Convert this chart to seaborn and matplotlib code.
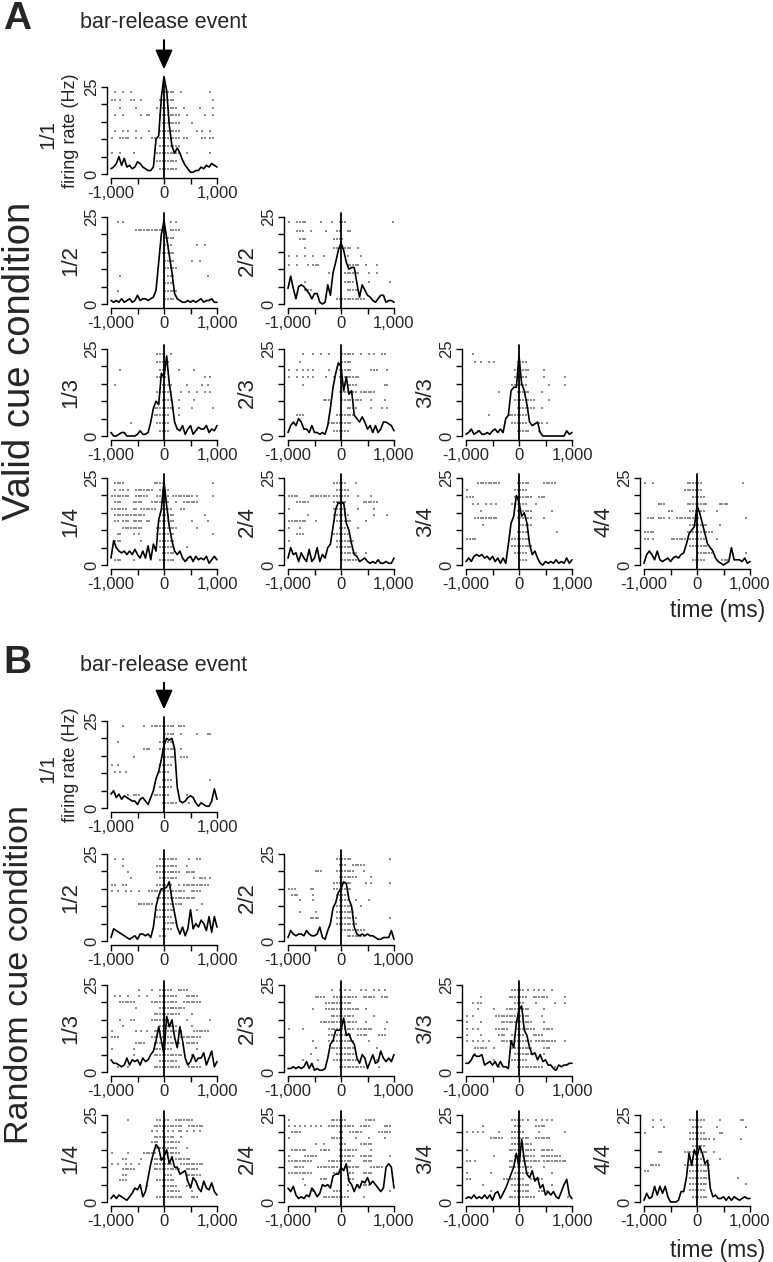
import numpy as np
import pandas as pd
import matplotlib
matplotlib.use("Agg")
import matplotlib.pyplot as plt
import seaborn as sns

# ---------------- DATA ----------------
# time axis of the PSTH curves (ms, 50 ms steps)
TIME = list(range(-1000, 1001, 50))
XTICKS = [-1000, -500, 0, 500, 1000]
XTICKLABELS = ['-1,000', '', '0', '', '1,000']
YTICKS = [0, 5, 10, 15, 20, 25]
YTICKLABELS = ['0', '', '', '', '', '25']

# firing rate (Hz) -- valid cue condition, name A_<k>_<n> = "k/n"
A_1_1 = [1.5, 2, 3, 5, 2.5, 4.5, 2, 2.5, 1.5, 2, 3.5, 3, 2, 1.5, 1, 1, 2, 10, 11, 22, 28,
         24, 14, 8, 6, 7.5, 6, 4, 2.5, 1.5, 0.5, 0.5, 1, 1, 2, 1.5, 2.5, 2, 3, 2.5, 2]
A_1_2 = [1, 0.5, 1, 0.5, 1.5, 0.5, 1, 1.5, 0.5, 1, 2.5, 1, 1.5, 1.5, 1, 1.5, 2, 4, 12, 20, 24,
         19, 14, 9, 3, 1.5, 1, 0.5, 0.5, 1, 0.5, 1, 0.5, 1, 1.5, 0.5, 1, 1, 1.5, 0.5, 0.5]
A_2_2 = [4.5, 8, 4.5, 1.5, 5, 5.5, 5, 4, 3, 1.5, 3, 3, 0.5, 0, 0.5, 5.5, 2.5, 9, 12, 15.5, 17.5,
         15.5, 12, 10, 10.5, 10.5, 6, 2, 5.5, 4, 2.5, 2, 1, 0.5, 1.5, 2.5, 2.5, 0.5, 1, 1, 0.5]
A_1_3 = [1, 0, 0, 0.5, 1, 1, 0, 0, 0, 0, 0.5, 1.5, 0.5, 0.5, 1, 4, 8, 10, 9, 18, 17,
         23, 15, 10, 4, 2, 1.5, 3, 0.5, 2, 3, 0.5, 1.5, 2.5, 2, 2, 3, 1, 2, 1.5, 3]
A_2_3 = [1, 3, 4, 3, 5, 4, 2, 2, 1, 3, 1, 1, 0.5, 1, 0.5, 3, 8, 14, 18, 21, 20,
         13, 17, 12, 13, 6, 5, 4, 5.5, 4, 2, 3, 1, 3, 1, 2, 4, 4, 3.5, 3, 1.5]
A_3_3 = [0.5, 1, 2, 0.5, 1, 1.5, 0.5, 0.5, 1, 0.5, 1.5, 2, 1, 2, 1, 5, 6, 13, 14, 14, 23,
         15, 13, 9, 4, 3, 3.5, 4, 1, 0, 0, 0, 0, 0, 0, 0, 0, 0, 1.5, 0.5, 1]
A_1_4 = [2, 7, 5, 4, 3.5, 4, 3, 4, 3, 4.5, 3, 2, 4, 2, 5.5, 1.5, 6, 4, 13, 16, 24,
         17, 11, 7, 4, 3, 4, 2, 1, 2, 2.5, 1, 2.5, 1.5, 2, 1.5, 2.5, 0.5, 1.5, 2.5, 1.5]
A_2_4 = [2, 5, 3, 3.5, 1, 3.5, 2, 1, 4.5, 1, 2, 5, 1, 3, 2, 5, 6, 11, 16, 18, 17.5,
         18, 12, 10, 6, 3, 2.5, 1, 1.5, 2, 1, 0.5, 1, 0.5, 1.5, 0.5, 0.5, 1, 0.5, 0.5, 2]
A_3_4 = [1, 2, 1, 2.5, 3, 2.5, 3, 2, 2.5, 1.5, 2.5, 1, 2, 0.5, 2, 0.5, 6, 12, 14, 20, 18,
         14, 15, 12, 6, 3, 4, 2, 0.5, 0, 1, 0.5, 1, 0.5, 1.5, 0.5, 1, 0.5, 2, 0.5, 1.5]
A_4_4 = [0.5, 3, 4, 3, 1.5, 4, 1.5, 1, 1.5, 2, 1, 2, 2.5, 2, 3, 3.5, 6, 9, 10, 11, 17,
         15, 12, 9, 6, 5, 4, 2, 1, 0.5, 0, 0.5, 1, 5, 1.5, 1.5, 1.5, 1, 2, 0.5, 1]

# firing rate (Hz) -- random cue condition
B_1_1 = [4, 5, 3, 4, 2.5, 3.5, 3, 2.5, 2, 2, 1, 2.5, 3, 2, 1, 3, 5, 8.5, 10.5, 14, 18,
         20, 19.5, 20, 17, 6, 2, 1.5, 2, 3, 3.5, 3, 1.5, 0.5, 1.5, 1, 0.5, 0.5, 2, 5.5, 2.5]
B_1_2 = [1, 3.5, 3, 2.5, 2, 1.5, 1, 0.5, 1, 1.5, 0.5, 2, 2, 1.5, 2, 1, 4, 10, 13, 15, 15,
         15.5, 17, 12, 8, 4, 2, 4, 1.5, 3.5, 9, 3.5, 5, 4, 6, 5, 3, 7, 2.5, 7, 4]
B_2_2 = [1, 3, 2, 1.5, 2, 2, 1.5, 3, 2, 1.5, 1.5, 2, 4, 1, 0.5, 3, 5, 9.5, 11, 14, 15,
         17, 16.5, 12, 10, 4, 2, 1.5, 2, 1.5, 2, 1.5, 1.5, 1, 0.5, 0.5, 1, 1, 1, 3, 0.5]
B_1_3 = [3.5, 2.5, 2.5, 2, 1.5, 2, 4, 2, 3.5, 3, 3.5, 2, 4, 3, 3.5, 5, 6, 9, 13, 9, 5,
         16, 13, 15, 10, 7, 13, 9, 4, 2, 3, 5, 3, 4, 4, 5.5, 2, 4, 6, 1.5, 3]
B_2_3 = [1, 1, 1.5, 1, 1.5, 1, 1.5, 3, 1, 2.5, 0.5, 1, 0.5, 0.5, 1, 4, 8, 9, 12, 12, 12,
         15.5, 10.5, 11, 9, 8, 4, 2.5, 5, 4, 1, 3, 5, 2.5, 3, 6, 4, 3, 4, 3, 5]
B_3_3 = [2.5, 2.5, 3.5, 5, 4.5, 4.5, 5, 2, 2.5, 3, 2, 3, 1.5, 3, 1.5, 1.5, 1, 9, 7, 14, 18,
         19, 12, 10.5, 7, 5, 5.5, 3.5, 5, 3, 3.5, 2, 2, 1, 0.5, 2, 1.5, 2, 2, 2.5, 2.5]
B_1_4 = [1, 2, 1, 2, 1.5, 1, 0.5, 1.5, 2.5, 4, 3.5, 5, 1.5, 3, 7, 11, 14, 16.5, 15.5, 12, 13,
         15, 11, 13, 10, 10, 8, 8.5, 9, 6, 4, 7, 6, 4, 3, 6, 4, 3.5, 5.5, 3, 2]
B_2_4 = [4, 3, 4.5, 2, 1, 1.5, 1, 2, 1.5, 4, 3, 1.5, 2.5, 5, 4.5, 5, 4, 7.5, 8, 8, 10,
         9, 11, 6, 5, 3, 5, 4, 6, 5.5, 7, 5, 6, 5, 4, 3, 4, 10, 11, 10, 4]
B_3_4 = [1, 1.5, 1, 2, 1, 1.5, 1, 2, 1, 2, 0.5, 2.5, 3, 1, 2.5, 4, 6, 8, 10, 14, 10,
         18, 12, 8, 7, 9, 6, 7, 4, 5, 2, 3, 2, 3, 1.5, 1, 3, 5, 6.5, 2, 1]
B_4_4 = [0.5, 2.5, 1, 1.5, 4.5, 2, 4.5, 2.5, 4.5, 1.5, 0, 0, 0, 0.5, 3, 3, 7, 14, 10.5, 15, 13,
         16, 14, 11, 12, 4, 1.5, 2, 1, 1, 1.5, 0.5, 1.5, 0.5, 1.5, 1, 0.5, 1, 1.5, 1, 1]

# spike rasters: one string per trial row (top to bottom), one char per 50 ms bin
RA_1_1 = [" .  .  .           .....  .          .  ",
          ".. .   ..  .      ......              . ",
          "   .     .       . ......  .     .    . ",
          " .  .      . ..   ........  .      .  . ",
          "                   .......    .         ",
          " .  . .  .    .   ........      . .  .  ",
          ".  ....  . .   .. ........ ..     .. .. ",
          "                  ........              ",
          ".  .    .        .........  .        .  ",
          "                 ........               ",
          "                  .......               "]
RA_1_2 = ["  . .                 . .              ",
          "         ...........  ....             ",
          "                    ....               ",
          "                    ...         .  .   ",
          "                   .....               ",
          "                    ....      .  .     ",
          "                    .....              ",
          "   .                 ...            .  ",
          "                    ....               ",
          "  .                 .....              ",
          "                    ....               "]
RA_2_2 = [".  ....     .   .  ...                 .",
          "   ...  .     .   ..  ..               ",
          "    ...          ....                  ",
          "      .          .......  .            ",
          ".  .  .  .   .        .    .           ",
          ".  .   . ...          .....  .   .     ",
          "               .     ......   .  .     ",
          "      .              ....     .       .",
          "      ...             .....            ",
          "                  ...........          "]
RA_1_3 = ["                 ...  .                ",
          "                 .....                 ",
          "   .              ....   .     .       ",
          "                 ....              . . ",
          " .                 ....     .     . .  ",
          "                 ......   .  .  .  . . ",
          "                   ....  .     .       ",
          "                ........ .    .       .",
          "                ......   .             ",
          "       .         .....                 ",
          "                  ....                 "]
RA_2_3 = ["     .   .  .  .    .....  .  . .  ..  ",
          "    .               ....               ",
          ".  . . . .     .   .....       ...   . ",
          ".  . . . .    .  . ........            ",
          "     .               .....          .. ",
          "                   ....... ......      ",
          "             ...    ........   .    .  ",
          "                      ....     .   . . ",
          "   ...            .......              ",
          "               .........               ",
          "                 ......                "]
RA_3_3 = ["  .                                    ",
          "   . .  . .        ....                ",
          "                  ......     .         ",
          "                  .....      .       . ",
          "                 ......        .     . ",
          "            .      .....    .          ",
          "                  ........     .       ",
          "                   .......  .          ",
          "        .       .......                ",
          "                 ......    .. .        ",
          " .  .              .....   .           "]
RA_1_4 = [" ....           ....                  .",
          " . .. .  .......  ....                 ",
          ".......  .....   ..... ........ .     .",
          " ...    ....   .......  .  ......      ",
          "......  .. ......  ....   ..           ",
          " ............     ......           .   ",
          " .. ... .... ..   ......      .     .  ",
          "    ........     ........       .      ",
          "  ..    . .      .......              .",
          " ...       .      ......               ",
          "                  ......    .          ",
          "                   .....               ",
          " ...    .         ......    .          "]
RA_2_4 = ["                 .....   .             ",
          "                  .....                ",
          "....    ........ ......   .    .       ",
          "   .....         .....      ......     ",
          ".                .....    .     .      ",
          "       .         ......         .    . ",
          ".......   .      .......     .         ",
          ".   .              ....   .            ",
          "   ...           ......                ",
          ".                 .......              ",
          "                  ......               ",
          "                    ......   .         ",
          "                    ......             "]
RA_3_4 = ["    .........      .....     .....     ",
          ".                 .....                ",
          "...               .......  ...         ",
          "  . .  . . .     ......   .            ",
          "     .             ......       .      ",
          "   .........       ......    .         ",
          "      .             .....              ",
          "                   .....          .    ",
          "....             .......               ",
          "                 ........              ",
          "                  .....                ",
          "                    ...                "]
RA_4_4 = [".  .            ......               . ",
          "               .......                 ",
          "                  .....                ",
          "     ...        ........    ....       ",
          "         ..      ......    .           ",
          " ... ... .  .........                 .",
          "                 .......    .          ",
          "....            ..........             ",
          ".. .      .............    .           ",
          "                 .......               ",
          "                    ......            .",
          "                  .....      ...       "]

RB_1_1 = ["    .       .  ......... ...           ",
          "                    ....  .     .   .. ",
          "  .               ......               ",
          "            ...   ......  .            ",
          "        .          .....  ...          ",
          ". .               .....                ",
          " . . .            ....                 ",
          "                   ....              . ",
          "                  .....                ",
          "      . ...     ......      .          ",
          "                   ......    .         "]
RB_1_2 = [" .  .             .......    .  ..     ",
          "    .            ........   .          ",
          "      .          .........  ....       ",
          "       .          .......      . ... . ",
          "..  ..           ......  . ..........  ",
          ". .  . .  .   ..............  ....     ",
          "                 ...............       ",
          "          ......   ........       .    ",
          "                 .......        .      ",
          "                 ......                ",
          "                    .....              ",
          "                   ....                ",
          "                  ...                  "]
RB_2_2 = ["                  ......              .",
          "                   ...  .....          ",
          "          ...     .......   .          ",
          "                   .......     .       ",
          "                 .......     . .      .",
          "...     ..       .......               ",
          " ...     .        .....                ",
          "    .    .         ....  .    .        ",
          "                 .......   .           ",
          "    .     .       .......              ",
          "        ....      ........            .",
          "                  ........             ",
          "                    .........          ",
          "                      .......          "]
RB_1_3 = ["          .    .  .....  ....          ",
          " . .  .   .  .    .......   .....      ",
          "   ......      ..........  .......     ",
          "         .        ..........           ",
          "                ..........    .        ",
          "   .   ..      .......      .        . ",
          "    .             .......     .        ",
          ".        . . .  ...........    ......  ",
          "...            ........   ........     ",
          "         ....   ..........  .....      ",
          ".       .       .......         .      ",
          "        .       ...........   .        ",
          "                  .......              ",
          "  .   .         ..........   .....     "]
RB_2_3 = ["                .  . . .   . .  . . .  ",
          "          ....   .........  .....  ... ",
          "              ..........               ",
          "         .    .............  .         ",
          "                .........       .      ",
          "            ..............   .       . ",
          ".    .         .......... ......    .  ",
          "               .........  ....    ...  ",
          "         .     ..........     .        ",
          "          .     .........        .     ",
          "        .         ........             ",
          "     .     .     .........       .     ",
          "                   ..........     .    "]
RB_3_3 = ["                 ..... . . . .  .      ",
          "     .          .......  ......      . ",
          "  . ..            ....    .      .   . ",
          "    .     .    .........     .         ",
          ". .        .............    .          ",
          ".    .       ............    .         ",
          ". . .      .....   .......   ....      ",
          ".    .      ...  .....   ....          ",
          ". . . . .    ............ ........   . ",
          "   .....  .      ........    ...       ",
          "   .              .......    .         ",
          "          .      ......                ",
          "            .      ..........    .     "]
RB_1_4 = ["      .          .. ..  .......        ",
          "                ...........  ......    ",
          "               . . . . . .. .  . .     ",
          "                ........  .            ",
          "               ...  ......             ",
          "                 ........   .          ",
          ".     .     .....   ......             ",
          "    ..     .   ......   ......         ",
          ". .  . .  .     .......   .........    ",
          "    .....       ..........  .....      ",
          "    ..              ...     ......     ",
          "   ...           .......    .          ",
          "             .     ......   .          ",
          "                     .....    .        ",
          "                 ..........   ...      "]
RB_2_4 = [".               ......       ....      ",
          ". . . . . . .  ..........  ....     ...",
          " ....              ..  .....      .....",
          ".               .....    .    .     .  ",
          "          .  .     ...     .....       ",
          " ......     ....   .......     .       ",
          ".     .....        ......  .....      .",
          ".........      .........    ....       ",
          "  ....     ........  ......    .....   ",
          ".........        ...   ..   ....       ",
          "     .      ...       ...              ",
          "      .               .   .....        ",
          "         .       ...  .               .",
          "             ..........     .          "]
RB_3_4 = ["                 ..... .  . . . .      ",
          "      .           ...     ....         ",
          ". . . .     .    .....     .         . ",
          "         .....   .......  ......       ",
          "                 ........              ",
          ".               ..........  .....      ",
          "          .       ........  ........   ",
          ".. .            ............ ......... ",
          "                .........    .         ",
          ".        .        ......        .      ",
          "..            ........  .....          ",
          "      .          .......        .      ",
          "         .        ......   ....        ",
          "                ..........            ."]
RB_4_4 = ["   .  .          ......     .       .. ",
          "   .   .          ....     .          .",
          ".                ......     ..         ",
          "                 ........ .         .  ",
          "                  .....                ",
          "     ..        .........  .            ",
          "                 ......     .          ",
          "  ....         ..........              ",
          "..               ........              ",
          "                 ........          .   ",
          "                 .......              .",
          "                 ......                ",
          "                  ......               "]

PSTH_A = [[A_1_1], [A_1_2, A_2_2], [A_1_3, A_2_3, A_3_3], [A_1_4, A_2_4, A_3_4, A_4_4]]
RASTER_A = [[RA_1_1], [RA_1_2, RA_2_2], [RA_1_3, RA_2_3, RA_3_3], [RA_1_4, RA_2_4, RA_3_4, RA_4_4]]
PSTH_B = [[B_1_1], [B_1_2, B_2_2], [B_1_3, B_2_3, B_3_3], [B_1_4, B_2_4, B_3_4, B_4_4]]
RASTER_B = [[RB_1_1], [RB_1_2, RB_2_2], [RB_1_3, RB_2_3, RB_3_3], [RB_1_4, RB_2_4, RB_3_4, RB_4_4]]

# ---------------- LAYOUT (pixels) ----------------
W, H = 773, 1262
COL_LEFT = [111, 288, 466, 644]
AX_W, AX_H = 106, 87
ROW_TOP_A = [87, 217, 349, 478]
ROW_TOP_B = [721, 854, 985, 1115]

sns.set_style("ticks")
plt.rcParams['font.family'] = ['Liberation Sans', 'DejaVu Sans']

fig = plt.figure(figsize=(W / 100, H / 100), dpi=100)


def raster_frame(rows):
    levels = np.linspace(23.5, 1.5, len(rows))
    pts = []
    for s, lv in zip(rows, levels):
        for i, c in enumerate(s.ljust(40)[:40]):
            if c == '.':
                pts.append((-1000 + 50 * i + 25, lv))
    return pd.DataFrame(pts, columns=['t', 'trial'])


def draw_cell(x, y, psth, raster, k, n):
    ax = fig.add_axes([x / W, 1 - (y + AX_H) / H, AX_W / W, AX_H / H])
    sns.scatterplot(data=raster_frame(raster), x='t', y='trial', ax=ax, marker='s',
                    s=0.9, color='0.55', linewidth=0, legend=False)
    sns.lineplot(x=TIME, y=psth, ax=ax, color='black', linewidth=1.2)
    for ln in ax.lines:
        ln.set_clip_on(False)
    ax.axvline(0, ymin=-0.05, ymax=1.05, color='black', lw=1.3, clip_on=False)
    # offset spines first: moving a spine resets the tick labels
    sns.despine(ax=ax, offset=3)
    ax.set_xlim(-1000, 1000)
    ax.set_ylim(0, 25)
    ax.set_xticks(XTICKS)
    ax.set_xticklabels(XTICKLABELS)
    ax.set_yticks(YTICKS)
    ax.set_yticklabels(YTICKLABELS)
    ax.set_xlabel('')
    ax.set_ylabel('')
    ax.tick_params(length=4, width=1, color='black')
    ax.tick_params(axis='x', labelsize=12, pad=1.5)
    ax.tick_params(axis='y', labelsize=12, labelrotation=90, pad=1.5)
    for lbl in ax.get_yticklabels():
        lbl.set_va('center')
    for sp in ('left', 'bottom'):
        ax.spines[sp].set_linewidth(1)
        ax.spines[sp].set_color('black')
    if k == 1 and n == 1:
        ax.text(-0.60, 0.45, f'{k}/{n}', rotation=90, transform=ax.transAxes,
                ha='center', va='center', fontsize=15)
        ax.text(-0.38, 0.5, 'firing rate (Hz)', rotation=90, transform=ax.transAxes,
                ha='center', va='center', fontsize=13)
    else:
        ax.text(-0.38, 0.5, f'{k}/{n}', rotation=90, transform=ax.transAxes,
                ha='center', va='center', fontsize=16)
    return ax


def draw_panel(letter, title, title_size, psths, rasters, row_tops, tip, tail,
               y_letter, y_cond, y_time):
    first = None
    for r, (prow, rrow) in enumerate(zip(psths, rasters)):
        for c, (p, ras) in enumerate(zip(prow, rrow)):
            ax = draw_cell(COL_LEFT[c], row_tops[r], p, ras, c + 1, r + 1)
            if first is None:
                first = ax
    first.annotate('', xy=(0, tip), xytext=(0, tail), xycoords=('data', 'axes fraction'),
                   arrowprops=dict(arrowstyle='-|>,head_length=0.9,head_width=0.4',
                                   mutation_scale=13, color='black', lw=1.5))
    first.text(0, tail + 0.17, 'bar-release event', transform=first.get_xaxis_transform(),
               ha='center', va='center', fontsize=15.5)
    fig.text(3 / W, 1 - y_letter / H, letter, fontsize=28, fontweight='bold',
             ha='left', va='center')
    fig.text(20 / W, 1 - y_cond / H, title, fontsize=title_size, rotation=90,
             ha='center', va='center')
    fig.text(765 / W, 1 - y_time / H, 'time (ms)', fontsize=16.5, ha='right', va='center')


draw_panel('A', 'Valid cue condition', 27.5, PSTH_A, RASTER_A, ROW_TOP_A,
           tip=1.17, tail=1.57, y_letter=19, y_cond=361, y_time=610)
draw_panel('B', 'Random cue condition', 24.5, PSTH_B, RASTER_B, ROW_TOP_B,
           tip=1.10, tail=1.47, y_letter=663, y_cond=974, y_time=1250)

fig.savefig('out.png', dpi=100)
